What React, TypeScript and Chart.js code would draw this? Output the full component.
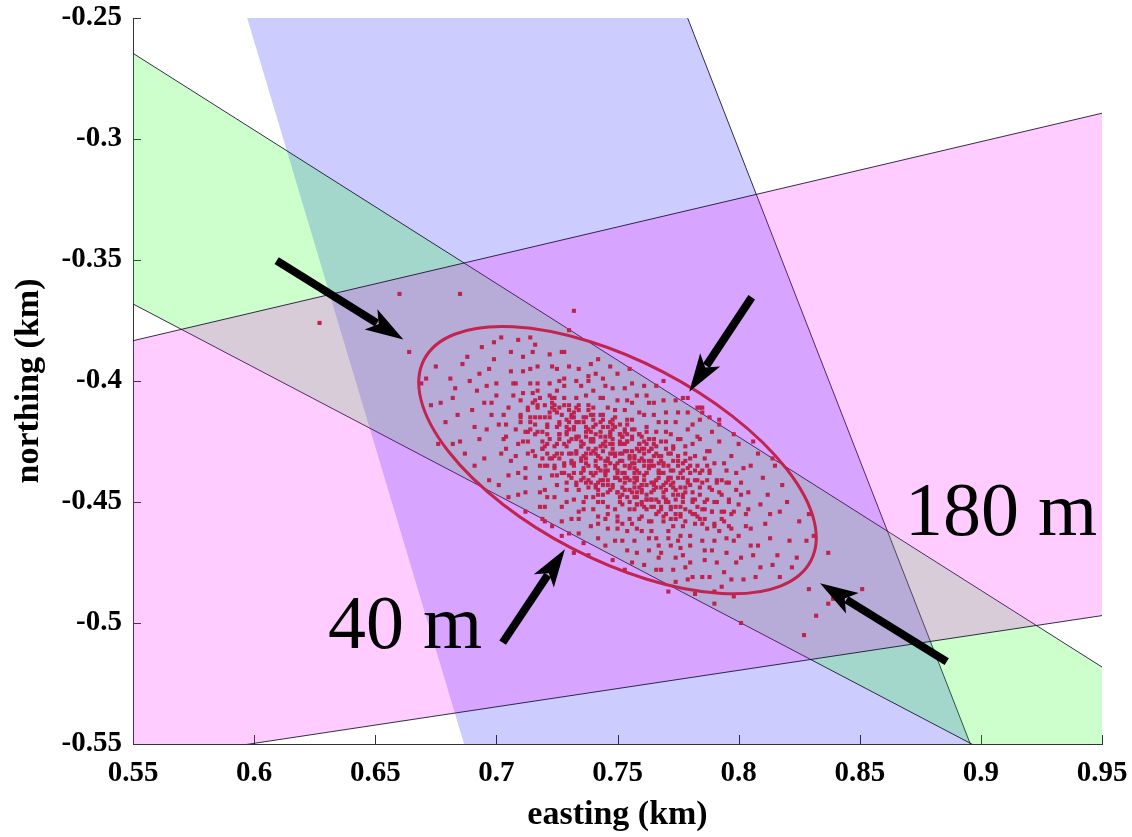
import React, { useEffect, useRef } from 'react';
import { Chart, registerables } from 'chart.js';

Chart.register(...registerables);

const SERIF = "'Liberation Serif', 'Times New Roman', serif";

// Axis ticks
const xTickValues = [0.55, 0.6, 0.65, 0.7, 0.75, 0.8, 0.85, 0.9, 0.95];
const xTickLabels = ['0.55', '0.6', '0.65', '0.7', '0.75', '0.8', '0.85', '0.9', '0.95'];
const yTickValues = [-0.55, -0.5, -0.45, -0.4, -0.35, -0.3, -0.25];
const yTickLabels = ['-0.55', '-0.5', '-0.45', '-0.4', '-0.35', '-0.3', '-0.25'];

// Uncertainty bands (km), polygon vertices (edges extend past the plot and are clipped)
const blueBand = [[0.5822, -0.2], [0.7595, -0.2], [0.9151, -0.6], [0.7016, -0.6]];
const greenBand = [[0.5, -0.2329], [1.0, -0.5499], [1.0, -0.6045], [0.5, -0.3419]];
const pinkBand = [[0.5, -0.3951], [1.0, -0.2776], [1.0, -0.4894], [0.5, -0.5648]];

// Error ellipse (km / degrees)
const ellipseCenter = [0.75, -0.4327];
const ellipseSemiAxes = [0.09, 0.041];
const ellipseAngleDeg = -27.5;

// Annotation arrows (km): tails and tips
const arrowTails = [[0.6093, -0.3503], [0.8054, -0.3654], [0.7026, -0.5081], [0.8859, -0.516]];
const arrowTips = [[0.6616, -0.3828], [0.7796, -0.4044], [0.7283, -0.4695], [0.8336, -0.4836]];

// Text labels (km, left/baseline)
const labelTexts = ['180 m', '40 m'];
const labelPositions = [[0.8687, -0.4636], [0.6305, -0.5103]];

// Position estimates (meters: easting, northing)
const cloudMeters = [
  [669,-401],
  [671,-399],[673,-410],
  [677,-409],[675,-394],
  [681,-399],[679,-417],[682,-407],
  [685,-425],[683,-403],[686,-393],[684,-414],
  [689,-400],[687,-430],[690,-412],[688,-390],[691,-419],
  [693,-424],[692,-404],[694,-386],[691,-435],[695,-409],[693,-397],
  [697,-395],[696,-420],[698,-409],[695,-432],[699,-384],[697,-441],[696,-402],[698,-414],
  [701,-418],[700,-401],[702,-430],[699,-391],[703,-414],[701,-443],[700,-406],[702,-382],[703,-424],
  [705,-411],[704,-428],[706,-396],[705,-439],[707,-406],[704,-418],[706,-388],[705,-448],[707,-401],[704,-423],[706,-433],
  [709,-426],[708,-401],[710,-414],[709,-438],[711,-390],[708,-420],[710,-408],[709,-447],[711,-396],[708,-431],[710,-417],[709,-383],[711,-405],
  [713,-412],[712,-436],[714,-395],[713,-425],[715,-405],[712,-446],[714,-417],[713,-430],[715,-388],[712,-454],[714,-401],[713,-421],[715,-409],[712,-440],[714,-382],
  [717,-421],[716,-408],[718,-435],[717,-394],[719,-428],[716,-415],[718,-446],[717,-401],[719,-425],[716,-385],[718,-440],[717,-411],[719,-432],[716,-418],[718,-452],[717,-404],[719,-457],
  [721,-418],[720,-435],[722,-401],[721,-426],[723,-409],[720,-445],[722,-413],[721,-430],[723,-394],[720,-452],[722,-406],[721,-422],[723,-439],[720,-415],[722,-389],[721,-448],[723,-411],[720,-458],[722,-432],
  [725,-430],[724,-407],[726,-422],[725,-443],[727,-414],[724,-435],[726,-400],[725,-426],[727,-452],[724,-410],[726,-418],[725,-439],[727,-388],[724,-448],[726,-432],[725,-404],[727,-458],[724,-412],[726,-424],[725,-395],[727,-464],
  [729,-419],[728,-434],[730,-410],[729,-442],[731,-424],[728,-402],[730,-430],[729,-450],[731,-414],[728,-438],[730,-394],[729,-427],[731,-457],[728,-407],[730,-417],[729,-445],[731,-433],[728,-399],[730,-463],[729,-422],[731,-440],[728,-388],[730,-412],
  [733,-430],[732,-415],[734,-445],[733,-423],[735,-402],[732,-438],[734,-454],[733,-411],[735,-433],[732,-420],[734,-463],[733,-407],[735,-427],[732,-449],[734,-395],[733,-417],[735,-441],[732,-435],[734,-457],[733,-400],[735,-425],[732,-471],[734,-412],[733,-443],
  [737,-419],[736,-436],[738,-410],[737,-448],[739,-425],[736,-440],[738,-400],[737,-432],[739,-460],[736,-415],[738,-444],[737,-423],[739,-393],[736,-453],[738,-428],[737,-406],[739,-438],[736,-467],[738,-412],[737,-434],[739,-421],[736,-450],[738,-398],[737,-430],[739,-442],[736,-417],
  [741,-435],[740,-416],[742,-445],[741,-428],[743,-407],[740,-439],[742,-456],[741,-422],[743,-432],[740,-411],[742,-450],[741,-397],[743,-441],[740,-425],[742,-465],[741,-418],[743,-437],[740,-404],[742,-459],[741,-430],[743,-414],[740,-448],[742,-391],[741,-443],[743,-423],[740,-453],[742,-431],
  [745,-427],[744,-441],[746,-411],[745,-437],[747,-421],[744,-450],[746,-432],[745,-402],[747,-445],[744,-416],[746,-461],[745,-425],[747,-434],[744,-407],[746,-455],[745,-439],[747,-394],[744,-447],[746,-419],[745,-468],[747,-430],[744,-414],[746,-443],[745,-457],[747,-423],[744,-399],[746,-452],[745,-435],
  [749,-435],[748,-424],[750,-446],[749,-412],[751,-441],[748,-430],[750,-456],[749,-419],[751,-450],[748,-403],[750,-438],[749,-466],[751,-422],[748,-428],[750,-461],[749,-415],[751,-433],[748,-444],[750,-397],[749,-453],[751,-426],[748,-474],[750,-408],[749,-440],[751,-448],[748,-418],[750,-458],[749,-431],
  [753,-429],[752,-444],[754,-418],[753,-438],[755,-453],[752,-423],[754,-462],[753,-412],[755,-441],[752,-433],[754,-448],[753,-403],[755,-457],[752,-426],[754,-470],[753,-421],[755,-436],[752,-451],[754,-408],[753,-445],[755,-431],[752,-466],[754,-416],[753,-440],[755,-395],[752,-459],[754,-425],[753,-478],
  [757,-436],[756,-423],[758,-448],[757,-431],[759,-457],[756,-416],[758,-441],[757,-466],[759,-426],[756,-409],[758,-451],[757,-434],[759,-444],[756,-401],[758,-461],[757,-420],[759,-438],[756,-475],[758,-428],[757,-453],[759,-413],[756,-446],[758,-471],[757,-432],[759,-422],[756,-459],[758,-406],[757,-440],
  [761,-430],[760,-445],[762,-419],[761,-452],[763,-436],[760,-462],[762,-426],[761,-441],[763,-409],[760,-456],[762,-449],[761,-433],[763,-470],[760,-423],[762,-438],[761,-414],[763,-465],[760,-428],[762,-447],[761,-402],[763,-458],[760,-443],[762,-421],[761,-476],[763,-435],[760,-451],[762,-406],
  [765,-443],[764,-428],[766,-455],[765,-435],[767,-417],[764,-449],[766,-465],[765,-424],[767,-440],[764,-458],[766,-430],[765,-409],[767,-473],[764,-446],[766,-421],[765,-452],[767,-437],[764,-462],[766,-402],[765,-426],[767,-468],[764,-433],[766,-478],[765,-414],[767,-450],[764,-442],
  [769,-438],[768,-453],[770,-425],[769,-446],[771,-462],[768,-431],[770,-413],[769,-456],[771,-441],[768,-471],[770,-421],[769,-435],[771,-450],[768,-478],[770,-428],[769,-408],[771,-465],[768,-444],[770,-417],[769,-458],[771,-487],[768,-433],[770,-449],[769,-400],
  [773,-444],[772,-430],[774,-455],[773,-437],[775,-466],[772,-422],[774,-449],[773,-460],[775,-413],[772,-440],[774,-473],[773,-427],[775,-447],[772,-453],[774,-417],[773,-478],[775,-433],[772,-468],[774,-408],[773,-442],[775,-424],[772,-457],[774,-483],
  [777,-437],[776,-452],[778,-427],[777,-460],[779,-442],[776,-469],[778,-433],[777,-447],[779,-420],[776,-456],[778,-477],[777,-440],[779,-413],[776,-464],[778,-430],[777,-450],[779,-482],[776,-424],[778,-444],[777,-472],[779,-407],
  [781,-446],[780,-435],[782,-459],[781,-426],[783,-452],[780,-468],[782,-441],[781,-418],[783,-456],[780,-475],[782,-431],[781,-449],[783,-411],[780,-464],[782,-437],[781,-481],[783,-423],[780,-454],[782,-488],
  [785,-442],[784,-457],[786,-432],[785,-466],[787,-449],[784,-424],[786,-474],[785,-437],[787,-461],[784,-416],[786,-453],[785,-481],[787,-429],[784,-447],[786,-470],[785,-411],[787,-435],
  [789,-454],[788,-438],[790,-466],[789,-445],[791,-475],[788,-429],[790,-459],[789,-421],[791,-450],[788,-481],[790,-434],[789,-470],[791,-442],[788,-415],[790,-487],
  [793,-447],[792,-462],[794,-434],[793,-454],[795,-471],[792,-425],[794,-479],[793,-441],[795,-465],[792,-418],[794,-458],[793,-485],[795,-437],
  [797,-455],[796,-442],[798,-466],[797,-431],[799,-475],[796,-450],[798,-422],[797,-482],[799,-438],[796,-460],[798,-489],
  [801,-447],[800,-464],[802,-436],[801,-473],[803,-455],[800,-426],[802,-482],[801,-442],[803,-460],
  [805,-461],[804,-446],[806,-472],[805,-435],[807,-481],[804,-453],[806,-425],[805,-468],
  [809,-451],[808,-468],[810,-440],[809,-477],[811,-459],[808,-430],
  [813,-465],[812,-447],[814,-476],[813,-455],[815,-435],
  [817,-454],[816,-472],[818,-443],[817,-481],
  [821,-466],[820,-450],[822,-477],
  [825,-458],[824,-473],
  [828,-466],[829,-455],
  [831,-464],
];

// Denser core of the cloud (meters)
const coreMeters = [
  [710,-415],[711,-425],[712,-421],[713,-411],[714,-415],[715,-429],[714,-420],
  [716,-422],[717,-410],[716,-431],
  [718,-415],[719,-428],[718,-407],[719,-421],
  [720,-427],[721,-419],[720,-410],[721,-435],
  [722,-415],[723,-432],[722,-424],[723,-407],
  [724,-427],[725,-419],[724,-436],[725,-413],[724,-431],
  [726,-422],[727,-430],[726,-411],[727,-438],[726,-417],
  [728,-426],[729,-416],[728,-435],[729,-421],[728,-410],
  [730,-420],[731,-430],[730,-439],[731,-415],[730,-425],[731,-434],
  [732,-434],[733,-424],[732,-413],[733,-429],[732,-419],[733,-442],
  [734,-423],[735,-438],[734,-417],[735,-432],[734,-410],[735,-427],
  [736,-431],[737,-421],[736,-437],[737,-415],[736,-426],[737,-442],
  [738,-420],[739,-430],[738,-441],[739,-424],[738,-435],[739,-414],
  [740,-429],[741,-438],[740,-419],[741,-433],[740,-424],[741,-444],[740,-414],
  [742,-436],[743,-427],[742,-442],[743,-421],[742,-431],[743,-417],[742,-447],
  [744,-426],[745,-438],[744,-419],[745,-433],[744,-443],[745,-423],[744,-429],
  [746,-433],[747,-422],[746,-441],[747,-426],[746,-446],[747,-417],[746,-437],
  [748,-426],[749,-436],[748,-443],[749,-430],[748,-420],[749,-440],[748,-416],
  [750,-434],[751,-425],[750,-440],[751,-430],[750,-446],[751,-422],[750,-437],[751,-418],
  [752,-430],[753,-442],[752,-423],[753,-435],[752,-447],[753,-426],[752,-438],[753,-420],
  [754,-440],[755,-432],[754,-425],[755,-445],[754,-429],[755,-450],[754,-422],[755,-435],
  [756,-434],[757,-442],[756,-424],[757,-438],[756,-429],[757,-448],[756,-420],[757,-444],
  [758,-440],[759,-429],[758,-446],[759,-433],[758,-451],[759,-426],[758,-437],[759,-422],
  [760,-432],[761,-439],[760,-446],[761,-425],[760,-443],[761,-435],[760,-450],[761,-428],
  [762,-438],[763,-429],[762,-449],[763,-433],[762,-443],[763,-424],[762,-453],[763,-436],
  [764,-435],[765,-445],[764,-428],[765,-442],[764,-449],[765,-431],[764,-452],[765,-424],
  [766,-444],[767,-434],[766,-449],[767,-438],[766,-427],[767,-454],[766,-441],[767,-431],
  [768,-438],[769,-448],[768,-431],[769,-443],[768,-452],[769,-434],[768,-425],
  [770,-445],[771,-435],[770,-450],[771,-430],[770,-455],[771,-440],[770,-442],
  [772,-437],[773,-447],[772,-452],[773,-433],[772,-443],[773,-428],
  [774,-445],[775,-435],[774,-452],[775,-440],[774,-457],[775,-431],
  [776,-438],[777,-448],[776,-455],[777,-434],[776,-444],
  [778,-446],[779,-436],[778,-453],[779,-441],[778,-458],
  [780,-438],[781,-450],[780,-443],[781,-455],[780,-432],
  [782,-449],[783,-441],[782,-455],[783,-435],
  [784,-444],[785,-453],[784,-438],[785,-459],
  [786,-450],[787,-441],[786,-457],
  [788,-444],[789,-454],[788,-437],
  [790,-450],[791,-441],[790,-460],
  [792,-446],[793,-457],
  [794,-454],[795,-442],
  [796,-449],[797,-461],
  [798,-454],[799,-445],
  [800,-451],
];

const outlierMeters = [
  [627,-376],[660,-364],[664,-388],[685,-364],[732,-371],[730,-379],[676,-426],[682,-426],
  [723,-460],[738,-472],[777,-407],[784,-411],[785,-413],[792,-416],[814,-432],[837,-471],
  [829,-486],[790,-492],[837,-492],[832,-497],[851,-486],[839,-490],[827,-505],[801,-500],
];

const toXY = (arr: number[][], k = 1) => arr.map(([x, y]) => ({ x: x * k, y: y * k }));

const annotationsPlugin = {
  id: 'annotations',
  beforeDraw(chart: any) {
    const { ctx, chartArea: a, scales } = chart;
    const xs = scales.x;
    const ys = scales.y;
    ctx.save();
    ctx.strokeStyle = '#333';
    ctx.lineWidth = 1;
    ctx.beginPath();
    for (const v of xTickValues) {
      const px = Math.round(xs.getPixelForValue(v)) + 0.5;
      ctx.moveTo(px, a.bottom);
      ctx.lineTo(px, a.bottom - 9);
    }
    for (const v of yTickValues) {
      const py = Math.round(ys.getPixelForValue(v)) + 0.5;
      ctx.moveTo(a.left, py);
      ctx.lineTo(a.left + 8, py);
    }
    ctx.stroke();
    ctx.restore();
  },
  afterDatasetsDraw(chart: any) {
    const { ctx, chartArea: a, scales } = chart;
    const xs = scales.x;
    const ys = scales.y;
    ctx.save();
    ctx.beginPath();
    ctx.rect(a.left, a.top, a.right - a.left, a.bottom - a.top);
    ctx.clip();

    // ellipse
    const cx = xs.getPixelForValue(ellipseCenter[0]);
    const cy = ys.getPixelForValue(ellipseCenter[1]);
    const kx = xs.getPixelForValue(ellipseCenter[0] + 1) - cx;
    const ky = ys.getPixelForValue(ellipseCenter[1] + 1) - cy;
    ctx.save();
    ctx.beginPath();
    ctx.translate(cx, cy);
    ctx.scale(kx, ky);
    ctx.rotate((ellipseAngleDeg * Math.PI) / 180);
    ctx.ellipse(0, 0, ellipseSemiAxes[0], ellipseSemiAxes[1], 0, 0, Math.PI * 2);
    ctx.restore();
    ctx.strokeStyle = '#C2244F';
    ctx.lineWidth = 3;
    ctx.stroke();

    // arrows
    ctx.fillStyle = '#000';
    ctx.strokeStyle = '#000';
    for (let i = 0; i < arrowTails.length; i++) {
      const tx = xs.getPixelForValue(arrowTails[i][0]);
      const ty = ys.getPixelForValue(arrowTails[i][1]);
      const hx = xs.getPixelForValue(arrowTips[i][0]);
      const hy = ys.getPixelForValue(arrowTips[i][1]);
      const len = Math.hypot(hx - tx, hy - ty);
      const dx = (hx - tx) / len;
      const dy = (hy - ty) / len;
      const nx = -dy;
      const ny = dx;
      const headLen = 38;
      const headHalf = 12;
      const notch = 29;
      ctx.beginPath();
      ctx.lineWidth = 8;
      ctx.lineCap = 'butt';
      ctx.moveTo(tx, ty);
      ctx.lineTo(hx - dx * (notch + 2), hy - dy * (notch + 2));
      ctx.stroke();
      ctx.beginPath();
      ctx.moveTo(hx, hy);
      ctx.lineTo(hx - dx * headLen + nx * headHalf, hy - dy * headLen + ny * headHalf);
      ctx.lineTo(hx - dx * notch, hy - dy * notch);
      ctx.lineTo(hx - dx * headLen - nx * headHalf, hy - dy * headLen - ny * headHalf);
      ctx.closePath();
      ctx.fill();
    }

    // text labels
    ctx.font = `normal 76px ${SERIF}`;
    ctx.textAlign = 'left';
    ctx.textBaseline = 'alphabetic';
    for (let i = 0; i < labelTexts.length; i++) {
      ctx.fillText(
        labelTexts[i],
        xs.getPixelForValue(labelPositions[i][0]),
        ys.getPixelForValue(labelPositions[i][1])
      );
    }
    ctx.restore();
  },
};

const edgeColor = 'rgba(20,10,40,0.85)';

const band = (pts: number[][], fillColor: string) => ({
  data: toXY(pts),
  showLine: true,
  fill: 'shape',
  backgroundColor: fillColor,
  borderColor: edgeColor,
  borderWidth: 1,
  pointRadius: 0,
  pointHoverRadius: 0,
  tension: 0,
  clip: 0,
});

const zeroPadding = (s: any) => {
  s.paddingTop = 0;
  s.paddingBottom = 0;
  s.paddingLeft = 0;
  s.paddingRight = 0;
};

export default function App() {
  const ref = useRef<HTMLCanvasElement>(null);

  useEffect(() => {
    if (!ref.current) return;
    const tickFont = { family: SERIF, size: 29, weight: 'bold' as const };
    const titleFont = { family: SERIF, size: 34, weight: 'bold' as const };
    const chart = new Chart(ref.current, {
      type: 'scatter',
      data: {
        datasets: [
          {
            data: toXY([...cloudMeters, ...coreMeters, ...outlierMeters], 0.001),
            pointStyle: 'rect',
            pointRadius: 2.9,
            pointHoverRadius: 2.9,
            backgroundColor: '#C0224E',
            borderWidth: 0,
            showLine: false,
          } as any,
          band(pinkBand, 'rgba(255,0,255,0.2)') as any,
          band(greenBand, 'rgba(0,255,0,0.2)') as any,
          band(blueBand, 'rgba(0,0,255,0.2)') as any,
        ],
      },
      options: {
        responsive: false,
        devicePixelRatio: 1,
        animation: false,
        events: [],
        layout: { padding: { left: 0, right: 30, top: 18, bottom: 0 } },
        plugins: {
          legend: { display: false },
          tooltip: { enabled: false },
        },
        scales: {
          x: {
            type: 'linear',
            min: 0.55,
            max: 0.95,
            offset: false,
            grid: { display: false, drawTicks: false },
            border: { display: true, color: '#333', width: 1 },
            afterBuildTicks: (s: any) => {
              s.ticks = xTickValues.map((v) => ({ value: v }));
            },
            afterFit: (s: any) => {
              s.height = 93;
              zeroPadding(s);
            },
            ticks: {
              autoSkip: false,
              maxRotation: 0,
              padding: 12,
              color: '#000',
              font: tickFont,
              callback: (_v: any, i: number) => xTickLabels[i],
            },
            title: {
              display: true,
              text: 'easting (km)',
              color: '#000',
              font: titleFont,
              padding: { top: 0, bottom: 1 },
            },
          },
          y: {
            type: 'linear',
            min: -0.55,
            max: -0.25,
            grid: { display: false, drawTicks: false },
            border: { display: true, color: '#333', width: 1 },
            afterBuildTicks: (s: any) => {
              s.ticks = yTickValues.map((v) => ({ value: v }));
            },
            afterFit: (s: any) => {
              s.width = 133;
              zeroPadding(s);
            },
            ticks: {
              autoSkip: false,
              padding: 11,
              color: '#000',
              font: tickFont,
              callback: (_v: any, i: number) => yTickLabels[i],
            },
            title: {
              display: true,
              text: 'northing (km)',
              color: '#000',
              font: titleFont,
              padding: { top: 9, bottom: 0 },
            },
          },
        },
      } as any,
      plugins: [annotationsPlugin],
    });
    return () => chart.destroy();
  }, []);

  return (
    <div style={{ position: 'absolute', left: 0, top: 0, width: 1132, height: 837, background: '#fff' }}>
      <canvas ref={ref} width={1132} height={837} style={{ display: 'block', width: 1132, height: 837 }} />
    </div>
  );
}
